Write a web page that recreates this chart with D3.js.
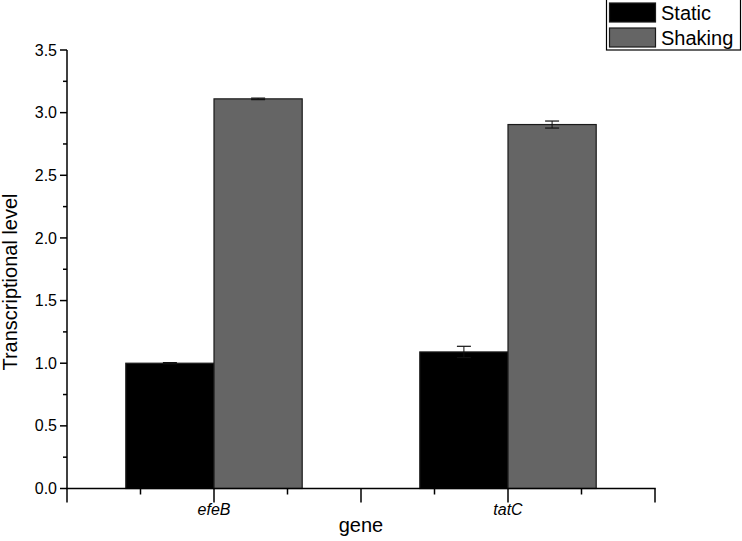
<!DOCTYPE html>
<html><head><meta charset="utf-8">
<script src="https://cdn.jsdelivr.net/npm/d3@7"></script>
<style>body{margin:0;background:#fff}svg{display:block}text{font-family:"Liberation Sans",Arial,sans-serif}</style>
</head><body>
<svg id="c" width="742" height="541"></svg>
<script>
const genes = ["efeB", "tatC"];
const geneX = [1, 3];
const seriesNames = ["Static", "Shaking"];
const staticVals = [1.0, 1.09];
const staticErr = [0.005, 0.045];
const shakingVals = [3.11, 2.905];
const shakingErr = [0.006, 0.028];
const yTicks = [0, 0.5, 1.0, 1.5, 2.0, 2.5, 3.0, 3.5];
const colors = ["#000000", "#656565"];

const svg = d3.select("#c");
const x = d3.scaleLinear().domain([0, 4]).range([67, 655]);
const y = d3.scaleLinear().domain([0, 3.5]).range([488.5, 50]);
const bw = 0.6;

const series = [
  {name: seriesNames[0], vals: staticVals, err: staticErr, off: -bw, color: colors[0]},
  {name: seriesNames[1], vals: shakingVals, err: shakingErr, off: 0, color: colors[1]}
];

series.forEach(s => {
  const g = svg.append("g");
  g.selectAll("rect").data(s.vals).join("rect")
    .attr("x", (d, i) => x(geneX[i] + s.off))
    .attr("y", d => y(d))
    .attr("width", x(bw) - x(0))
    .attr("height", d => y(0) - y(d))
    .attr("fill", s.color)
    .attr("stroke", "#1a1a1a").attr("stroke-width", 1.2);
  s.vals.forEach((v, i) => {
    const cx = x(geneX[i] + s.off + bw / 2);
    const e = s.err[i];
    g.append("line").attr("x1", cx).attr("x2", cx).attr("y1", y(v + e)).attr("y2", y(v - e)).attr("stroke", "#111").attr("stroke-width", 1);
    [v + e, v - e].forEach(t => g.append("line").attr("x1", cx - 7).attr("x2", cx + 7).attr("y1", y(t)).attr("y2", y(t)).attr("stroke", "#111").attr("stroke-width", 1.2));
  });
});

// Y axis
const yAxis = svg.append("g").attr("transform", "translate(67,0)");
yAxis.append("line").attr("x1", 0).attr("x2", 0).attr("y1", y(3.5)).attr("y2", y(0) + 0.5).attr("stroke", "#000").attr("stroke-width", 1.5);
const yMinor = d3.range(0.25, 3.5, 0.5);
yAxis.selectAll(".mj").data(yTicks).join("line").attr("x1", -7).attr("x2", 0).attr("y1", d => y(d)).attr("y2", d => y(d)).attr("stroke", "#000").attr("stroke-width", 1.5);
yAxis.selectAll(".mn").data(yMinor).join("line").attr("class", "mn").attr("x1", -4).attr("x2", 0).attr("y1", d => y(d)).attr("y2", d => y(d)).attr("stroke", "#000").attr("stroke-width", 1.5);
yAxis.selectAll("text").data(yTicks).join("text")
  .attr("x", -10).attr("y", d => y(d)).attr("dy", "0.35em").attr("text-anchor", "end")
  .attr("font-size", 16).text(d => d3.format(".1f")(d));

// X axis
const xAxis = svg.append("g");
xAxis.append("line").attr("x1", x(0) - 0.75).attr("x2", x(4) + 0.75).attr("y1", y(0)).attr("y2", y(0)).attr("stroke", "#000").attr("stroke-width", 1.5);
xAxis.selectAll(".mj").data([0, 1, 2, 3, 4]).join("line").attr("x1", d => x(d)).attr("x2", d => x(d)).attr("y1", y(0)).attr("y2", y(0) + 14).attr("stroke", "#000").attr("stroke-width", 1.5);
xAxis.selectAll(".mn").data([0.5, 1.5, 2.5, 3.5]).join("line").attr("class", "mn").attr("x1", d => x(d)).attr("x2", d => x(d)).attr("y1", y(0)).attr("y2", y(0) + 6).attr("stroke", "#000").attr("stroke-width", 1.5);
xAxis.selectAll("text").data(genes).join("text")
  .attr("x", (d, i) => x(geneX[i])).attr("y", 515).attr("text-anchor", "middle")
  .attr("font-size", 16).attr("font-style", "italic").text(d => d);

svg.append("text").attr("x", x(2)).attr("y", 532).attr("text-anchor", "middle").attr("font-size", 20).text("gene");
svg.append("text").attr("transform", "translate(17,282) rotate(-90)").attr("text-anchor", "middle").attr("font-size", 20).text("Transcriptional level");

// Legend
const lg = svg.append("g");
lg.append("rect").attr("x", 606.5).attr("y", -1).attr("width", 134).attr("height", 51).attr("fill", "#fff").attr("stroke", "#000").attr("stroke-width", 1.2);
seriesNames.forEach((n, i) => {
  lg.append("rect").attr("x", 609.5).attr("y", 3 + i * 25).attr("width", 46).attr("height", 19).attr("fill", colors[i]).attr("stroke", "#1a1a1a").attr("stroke-width", 1.2);
  lg.append("text").attr("x", 661).attr("y", 20 + i * 25).attr("font-size", 20).text(n);
});
</script>
</body></html>
